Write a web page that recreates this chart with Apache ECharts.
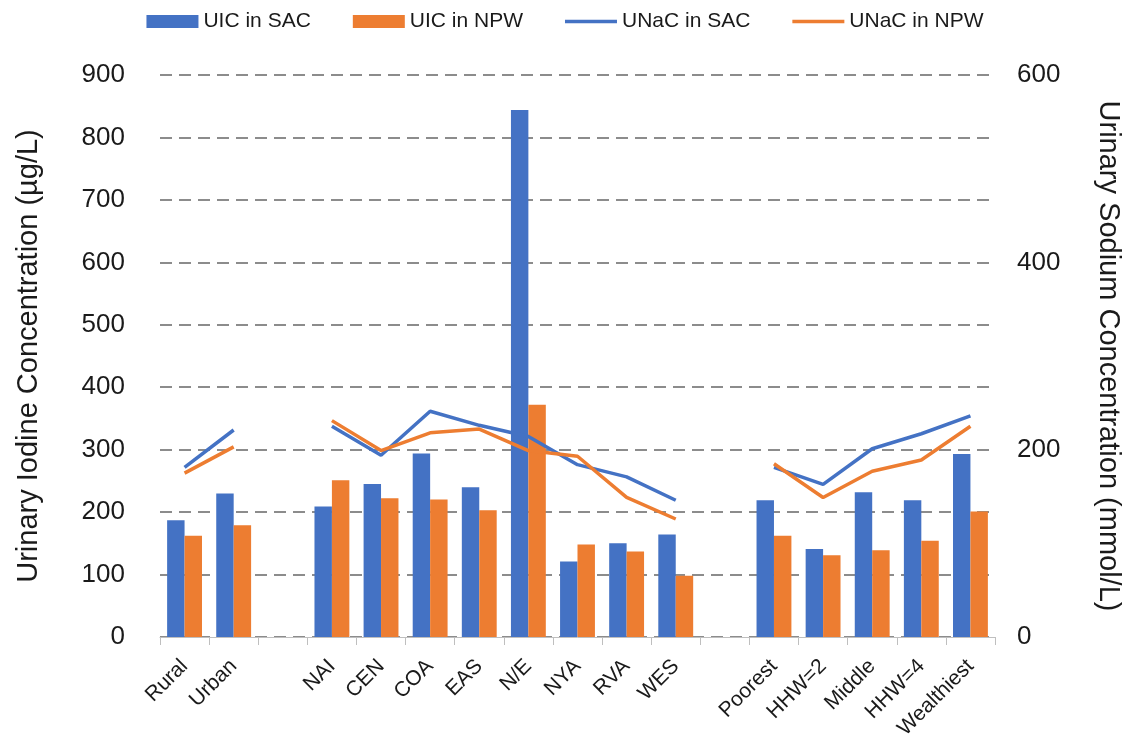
<!DOCTYPE html>
<html>
<head>
<meta charset="utf-8">
<script src="https://cdn.jsdelivr.net/npm/echarts@6/dist/echarts.min.js"></script>
<style>
html,body{margin:0;padding:0;background:#fff;}
#chart{width:1130px;height:751px;}
</style>
</head>
<body>
<div id="chart"></div>
<script>
const categories = ['Rural','Urban','','NAI','CEN','COA','EAS','N/E','NYA','RVA','WES','','Poorest','HHW=2','Middle','HHW=4','Wealthiest'];
const uicSAC = [187, 230, null, 209, 245, 294, 240, 844, 121, 150, 164, null, 219, 141, 232, 219, 293];
const uicNPW = [162, 179, null, 251, 222, 220, 203, 372, 148, 137, 98, null, 162, 131, 139, 154, 201];
const unacSAC = [181, 221, null, 225, 194, 241, 226, 214, 184, 171, 146, null, 181, 163, 201, 217, 236];
const unacNPW = [175, 203, null, 231, 199, 218, 222, 199, 193, 149, 126, null, 185, 149, 177, 189, 225];
const leftTicks = {min: 0, max: 900, interval: 100};
const rightTicks = {min: 0, max: 600, interval: 200};

const BLUE = '#4472C4', ORANGE = '#ED7D31';
const TXT = '#1a1a1a';
const FONT = "'Liberation Sans', Arial, sans-serif";
const LINE_ICON = 'path://M0,0 L52,0 L52,3.5 L0,3.5 Z';
const chart = echarts.init(document.getElementById('chart'));
chart.setOption({
  animation: false,
  textStyle: {fontFamily: FONT},
  legend: {
    top: 6, left: 'center',
    itemGap: 42, itemWidth: 52, itemHeight: 13,
    textStyle: {fontSize: 21, color: TXT, fontFamily: FONT},
    data: [
      {name: 'UIC in SAC', icon: 'rect'},
      {name: 'UIC in NPW', icon: 'rect'},
      {name: 'UNaC in SAC', icon: LINE_ICON},
      {name: 'UNaC in NPW', icon: LINE_ICON}
    ]
  },
  grid: {left: 160, right: 132, top: 75, bottom: 114, containLabel: false},
  xAxis: {
    type: 'category',
    data: categories,
    axisLine: {lineStyle: {color: '#bfbfbf', width: 1}},
    axisTick: {show: true, length: 8, lineStyle: {color: '#bfbfbf'}},
    axisLabel: {rotate: 45, fontSize: 21, color: TXT, interval: 0, margin: 26, fontFamily: FONT}
  },
  yAxis: [
    {
      type: 'value', min: leftTicks.min, max: leftTicks.max, interval: leftTicks.interval,
      name: 'Urinary Iodine Concentration (µg/L)', nameLocation: 'middle', nameGap: 117,
      nameTextStyle: {fontSize: 29, color: TXT, fontFamily: FONT},
      axisLine: {show: false}, axisTick: {show: false},
      axisLabel: {fontSize: 26, color: TXT, margin: 35, fontFamily: FONT},
      splitLine: {show: true, lineStyle: {color: '#8c8c8c', width: 2.2, type: [12, 7]}}
    },
    {
      type: 'value', min: rightTicks.min, max: rightTicks.max, interval: rightTicks.interval,
      name: 'Urinary Sodium Concentration (mmol/L)', nameLocation: 'middle', nameGap: 98, nameRotate: -90,
      nameTextStyle: {fontSize: 29, color: TXT, fontFamily: FONT},
      axisLine: {show: false}, axisTick: {show: false},
      axisLabel: {fontSize: 26, color: TXT, margin: 22, fontFamily: FONT},
      splitLine: {show: false}
    }
  ],
  series: [
    {name: 'UIC in SAC', type: 'bar', data: uicSAC, itemStyle: {color: BLUE}, barGap: '0%', barCategoryGap: '29%'},
    {name: 'UIC in NPW', type: 'bar', data: uicNPW, itemStyle: {color: ORANGE}, barGap: '0%', barCategoryGap: '29%'},
    {name: 'UNaC in SAC', type: 'line', yAxisIndex: 1, data: unacSAC, symbol: 'none', showSymbol: false,
     lineStyle: {color: BLUE, width: 3.5}, itemStyle: {color: BLUE}, connectNulls: false},
    {name: 'UNaC in NPW', type: 'line', yAxisIndex: 1, data: unacNPW, symbol: 'none', showSymbol: false,
     lineStyle: {color: ORANGE, width: 3.5}, itemStyle: {color: ORANGE}, connectNulls: false}
  ]
});
</script>
</body>
</html>
